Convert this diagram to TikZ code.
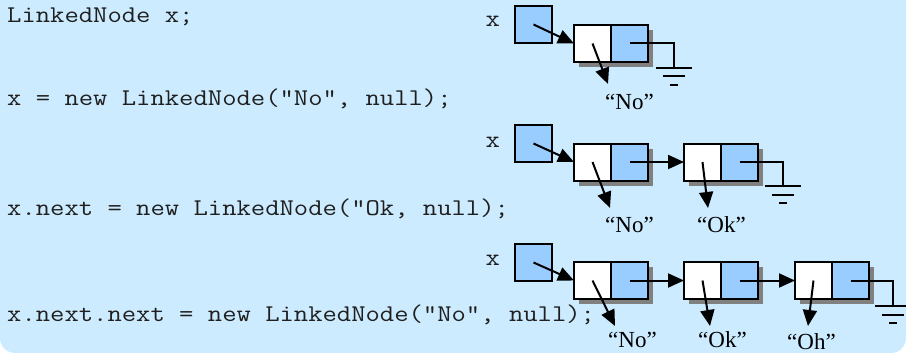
\documentclass[tikz,border=0pt]{standalone}
\usepackage{fontspec}
\usepackage{graphicx}
\setmainfont{Liberation Serif}
\usetikzlibrary{arrows.meta,shadows,calc}
\definecolor{panel}{HTML}{CCEBFF}
\definecolor{cellblue}{HTML}{99CCFF}
\definecolor{shade}{HTML}{808080}
% typewriter text, widened to a 14.4pt character pitch
\newcommand{\codetext}[1]{\scalebox{1.16}[1]{#1}}
\begin{document}
\begin{tikzpicture}[x=1pt,y=-1pt,
  code/.style={anchor=base west, inner sep=0pt, font=\fontsize{24}{28}\selectfont\ttfamily, text=black!88},
  val/.style={anchor=base west, inner sep=0pt, font=\fontsize{23}{28}\selectfont\rmfamily},
  cell/.style={draw, line width=2pt, minimum width=37pt, minimum height=37pt, inner sep=0pt, outer sep=0pt},
  boxshadow/.style={drop shadow={shadow xshift=5pt, shadow yshift=-5pt, fill=shade, opacity=1}},
  datacell/.style={cell, fill=white, boxshadow},
  nextcell/.style={cell, fill=cellblue, boxshadow, anchor=west},
  refbox/.style={cell, fill=cellblue},
  ptr/.style={line width=2pt, -{Triangle[length=16pt,width=14pt]}},
  wire/.style={line width=2pt}
]
% panel
\useasboundingbox (0,0) rectangle (906,353);
\fill[panel, rounded corners=15pt] (0,0) rectangle (906,353);
\fill[panel] (0,0) rectangle (906,200);

% code lines
\node[code] (c1) at (7,23) {\codetext{LinkedNode x;}};
\node[code] (c2) at (7,106) {\codetext{x = new LinkedNode("No", null);}};
\node[code] (c3) at (7,215) {\codetext{x.next = new LinkedNode("Ok, null);}};
\node[code] (c4) at (7,321) {\codetext{x.next.next = new LinkedNode("No", null);}};

% ground symbol below a coordinate
\newcommand{\earth}[1]{%
  \draw[wire] ($(#1)+(-18,0)$) -- ($(#1)+(18,0)$);
  \draw[wire] ($(#1)+(-11,8.5)$) -- ($(#1)+(11,8.5)$);
  \draw[wire] ($(#1)+(-4,17)$) -- ($(#1)+(4,17)$);}

% ---- state 1
\node[code] (x1) at (485.5,27) {\codetext{x}};
\node[refbox] (p1) at (533.5,24.5) {};
\node[datacell] (d1a) at (592.5,43.5) {};
\node[nextcell] (n1a) at (d1a.east) {};
\coordinate (g1) at (674,68);
\coordinate (t1a) at (608,84);
\node[val] (v1a) at (605,110) {“No”};
\draw[ptr] (p1.center) -- (d1a.west);
\draw[ptr] (d1a.center) -- (t1a);
\draw[wire] (n1a.center) -| (g1);
\earth{g1}

% ---- state 2
\node[code] (x2) at (485.5,147) {\codetext{x}};
\node[refbox] (p2) at (533.5,143.5) {};
\node[datacell] (d2a) at (592.5,162) {};
\node[nextcell] (n2a) at (d2a.east) {};
\node[datacell] (d2b) at (702.5,162) {};
\node[nextcell] (n2b) at (d2b.east) {};
\coordinate (g2) at (783,186);
\coordinate (t2a) at (610,208);
\coordinate (t2b) at (708,208);
\node[val] (v2a) at (605,232) {“No”};
\node[val] (v2b) at (697,232) {“Ok”};
\draw[ptr] (p2.center) -- (d2a.west);
\draw[ptr] (n2a.center) -- (d2b.west);
\draw[ptr] (d2a.center) -- (t2a);
\draw[ptr] (d2b.center) -- (t2b);
\draw[wire] (n2b.center) -| (g2);
\earth{g2}

% ---- state 3
\node[code] (x3) at (485.5,265) {\codetext{x}};
\node[refbox] (p3) at (533.5,262.5) {};
\node[datacell] (d3a) at (592.5,280.5) {};
\node[nextcell] (n3a) at (d3a.east) {};
\node[datacell] (d3b) at (702.5,280.5) {};
\node[nextcell] (n3b) at (d3b.east) {};
\node[datacell] (d3c) at (813.5,280.5) {};
\node[nextcell] (n3c) at (d3c.east) {};
\coordinate (g3) at (893,306);
\coordinate (t3a) at (615,326);
\coordinate (t3b) at (710,326);
\coordinate (t3c) at (808,326);
\node[val] (v3a) at (608,347) {“No”};
\node[val] (v3b) at (698,347) {“Ok”};
\node[val] (v3c) at (787,349) {“Oh”};
\draw[ptr] (p3.center) -- (d3a.west);
\draw[ptr] (n3a.center) -- (d3b.west);
\draw[ptr] (n3b.center) -- (d3c.west);
\draw[ptr] (d3a.center) -- (t3a);
\draw[ptr] (d3b.center) -- (t3b);
\draw[ptr] (d3c.center) -- (t3c);
\draw[wire] (n3c.center) -| (g3);
\earth{g3}
\end{tikzpicture}
\end{document}
